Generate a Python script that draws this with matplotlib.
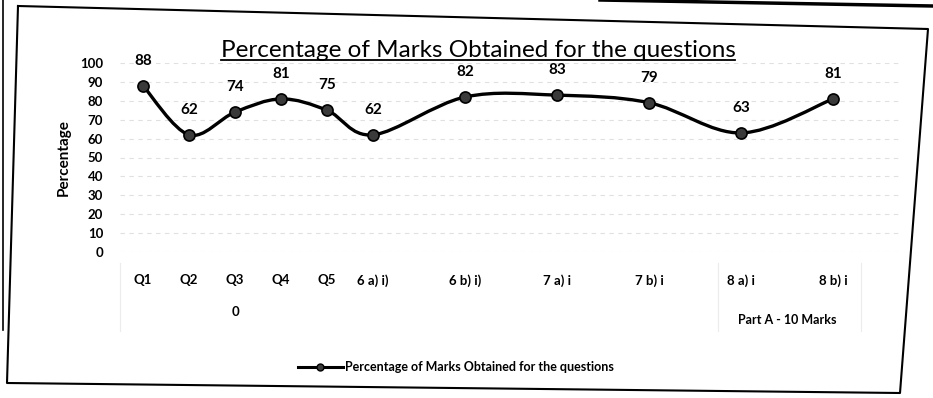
import numpy as np
import matplotlib.pyplot as plt
from matplotlib.path import Path
from matplotlib.patches import PathPatch
from matplotlib.lines import Line2D

plt.rcParams['font.family'] = ['Lato', 'DejaVu Sans']

# category slots on the axis; blank slots hold no value
categories = ['Q1', 'Q2', 'Q3', 'Q4', 'Q5', '6 a) i)', '', '6 b) i)', '', '7 a) i', '',
              '7 b) i', '', '8 a) i', '', '8 b) i', '']
percent = [88, 62, 74, 81, 75, 62, None, 82, None, 83, None, 79, None, 63, None, 81, None]
series_name = 'Percentage of Marks Obtained for the questions'
title = 'Percentage of Marks Obtained for the questions'
group_q3 = '0'
group_part = 'Part A - 10 Marks'
yticks = list(range(0, 101, 10))

W, H = 933, 398


def fx(px):
    return px / W


def fy(py):
    return 1 - py / H


def smooth_path(xs, ys):
    # excel style smoothed line: catmull-rom turned into cubic beziers
    pts = np.column_stack([xs, ys]).astype(float)
    verts = [pts[0]]
    codes = [Path.MOVETO]
    n = len(pts)
    for i in range(n - 1):
        p0 = pts[max(i - 1, 0)]
        p1 = pts[i]
        p2 = pts[i + 1]
        p3 = pts[min(i + 2, n - 1)]
        c1 = p1 + (p2 - p0) / 6
        c2 = p2 - (p3 - p1) / 6
        verts += [c1, c2, p2]
        codes += [Path.CURVE4] * 3
    return Path(verts, codes)


fig = plt.figure(figsize=(W / 100, H / 100), dpi=100)
fig.patch.set_facecolor('white')

ax = fig.add_axes([fx(120), fy(252), fx(902) - fx(120), (252 - 63) / H])
ax.set_xlim(-0.5, len(categories) - 0.5)
ax.set_ylim(0, 100)
for s in ax.spines.values():
    s.set_visible(False)

ax.set_yticks(yticks)
ax.yaxis.grid(True, color='#e0e0e0', lw=0.8, ls=(0, (4, 4)))
ax.set_axisbelow(True)
ax.tick_params(axis='y', length=0, pad=12, labelsize=9.5)
for lab in ax.get_yticklabels():
    lab.set_fontweight('bold')

idx = [i for i, v in enumerate(percent) if v is not None]
xv = np.array(idx)
yv = np.array([percent[i] for i in idx])

ax.set_xticks(xv, [categories[i] for i in idx])
ax.tick_params(axis='x', length=0, pad=16, labelsize=9.5)
for lab in ax.get_xticklabels():
    lab.set_fontweight('bold')

ax.add_patch(PathPatch(smooth_path(xv, yv), fill=False, lw=2.4, edgecolor='black',
                       capstyle='round', joinstyle='round', zorder=3))
ax.plot(xv, yv, 'o', ms=8, mfc='#3a3a3a', mec='black', mew=1.2, zorder=4)

for x, v in zip(xv, yv):
    ax.annotate(str(v), (x, v), xytext=(0, 18), textcoords='offset points',
                ha='center', va='center', fontsize=11, fontweight='bold')

ax.set_ylabel('Percentage', fontsize=11, fontweight='bold', labelpad=7)

# second level labels of the category axis
trans = ax.get_xaxis_transform()
ax.text(2, -0.32, group_q3, transform=trans, ha='center', va='center',
        fontsize=9.5, fontweight='bold')
ax.text(14, -0.36, group_part, transform=trans, ha='center', va='center',
        fontsize=9, fontweight='bold')
for gx in [-0.5, 12.5, 15.6]:
    ax.plot([gx, gx], [-0.06, -0.42], transform=trans, clip_on=False,
            color='#ececec', lw=0.8)

handle = Line2D([], [], color='black', lw=2.2, marker='o', ms=5,
                mfc='#3a3a3a', mec='black')
fig.legend([handle], [series_name], loc='center', bbox_to_anchor=(fx(456), fy(367)),
           frameon=False, handlelength=3.6, handletextpad=0.2,
           prop={'weight': 'bold', 'size': 9})

t = fig.text(fx(478), fy(57), title, ha='center', va='baseline', fontsize=17.5)

# chart border and page edges from the photo
fig.add_artist(Line2D([fx(18), fx(928), fx(900), fx(7), fx(18)],
                      [fy(6), fy(29), fy(393), fy(383), fy(6)], color='black', lw=1.5))
fig.add_artist(Line2D([fx(3), fx(3)], [fy(0), fy(330)], color='black', lw=1.2))
fig.add_artist(Line2D([fx(600), fx(933)], [fy(0), fy(6)], color='black', lw=2.5))

fig.canvas.draw()
bb = t.get_window_extent()
inv = fig.transFigure.inverted()
(ux0, uy), (ux1, _) = inv.transform([[bb.x0, bb.y0 + 1], [bb.x1, bb.y0 + 1]])
fig.add_artist(Line2D([ux0, ux1], [uy, uy], color='black', lw=1.3))

fig.savefig('out.png', dpi=100)
